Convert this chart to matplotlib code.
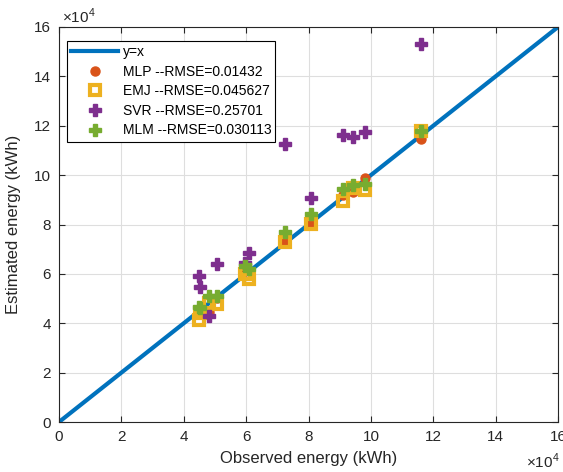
import matplotlib
matplotlib.use("Agg")
import matplotlib.pyplot as plt
import numpy as np

plt.rcParams['font.family'] = ['Liberation Sans', 'DejaVu Sans']
plt.rcParams['mathtext.fontset'] = 'custom'
plt.rcParams['mathtext.rm'] = 'Liberation Sans'

# values in units of 1e4 kWh
observed = [4.49, 4.52, 4.81, 5.07, 5.96, 6.09, 7.25, 8.08, 9.11, 9.43, 9.81, 11.61]
mlp = [4.56, 4.51, 4.46, 5.01, 6.13, 6.13, 7.3, 8.01, 9.18, 9.33, 9.9, 11.48]
emj = [4.15, 4.41, 4.81, 4.78, 5.98, 5.78, 7.3, 8.01, 8.97, 9.48, 9.38, 11.78]
svr = [5.93, 5.47, 4.3, 6.38, 6.43, 6.84, 11.26, 9.07, 11.61, 11.56, 11.76, 15.31]
mlm = [4.66, 4.61, 5.12, 5.12, 6.33, 6.18, 7.7, 8.41, 9.43, 9.58, 9.63, 11.8]

labels = ['y=x', 'MLP --RMSE=0.01432', 'EMJ --RMSE=0.045627',
          'SVR --RMSE=0.25701', 'MLM --RMSE=0.030113']
ticks = np.arange(0, 17, 2)

blue = (0, 0.447, 0.741)
orange = (0.85, 0.325, 0.098)
yellow = (0.929, 0.694, 0.125)
purple = (0.494, 0.184, 0.556)
green = (0.466, 0.674, 0.188)
dark = (0.15, 0.15, 0.15)

W, H = 563, 472
fig = plt.figure(figsize=(W / 100, H / 100), dpi=100)
ax = fig.add_axes([59 / W, 1 - 422 / H, 499 / W, 395 / H])

ax.plot([0, 16], [0, 16], color=blue, lw=3, label=labels[0], zorder=2)
ax.plot(observed, mlp, 'o', color=orange, ms=6.5, mec=orange, label=labels[1], zorder=3)
ax.plot(observed, emj, 's', mfc='none', mec=yellow, mew=3, ms=7, label=labels[2], zorder=4)
ax.plot(observed, svr, 'P', color=purple, ms=8, mec=purple, label=labels[3], zorder=5)
ax.plot(observed, mlm, 'P', color=green, ms=8, mec=green, label=labels[4], zorder=6)

ax.set_xlim(0, 16)
ax.set_ylim(0, 16)
ax.set_xticks(ticks)
ax.set_yticks(ticks)
ax.grid(True, color=(0.87, 0.87, 0.87), lw=0.8)
ax.set_axisbelow(True)
ax.tick_params(direction='in', top=True, right=True, colors=dark,
               labelsize=11, length=4, width=0.8, pad=6)
for s in ax.spines.values():
    s.set_color(dark)
    s.set_linewidth(0.8)

ax.set_xlabel('Observed energy (kWh)', fontsize=12, color=dark, labelpad=5)
ax.set_ylabel('Estimated energy (kWh)', fontsize=12, color=dark, labelpad=9)

fig.text(62 / W, 1 - 26 / H, r'$\times10^4$', fontsize=11, color=dark,
         ha='left', va='bottom')
fig.text(560 / W, 1 - 452 / H, r'$\times10^4$', fontsize=11, color=dark,
         ha='right', va='top')

leg = ax.legend(loc='upper left', bbox_to_anchor=(8 / 499, 1 - 14 / 395), fontsize=10,
                fancybox=False, framealpha=1, edgecolor='black',
                handlelength=3.4, borderpad=0.3, labelspacing=0.4,
                handletextpad=0.3, borderaxespad=0)
leg.get_frame().set_linewidth(0.8)

fig.savefig('out.png', dpi=100)
